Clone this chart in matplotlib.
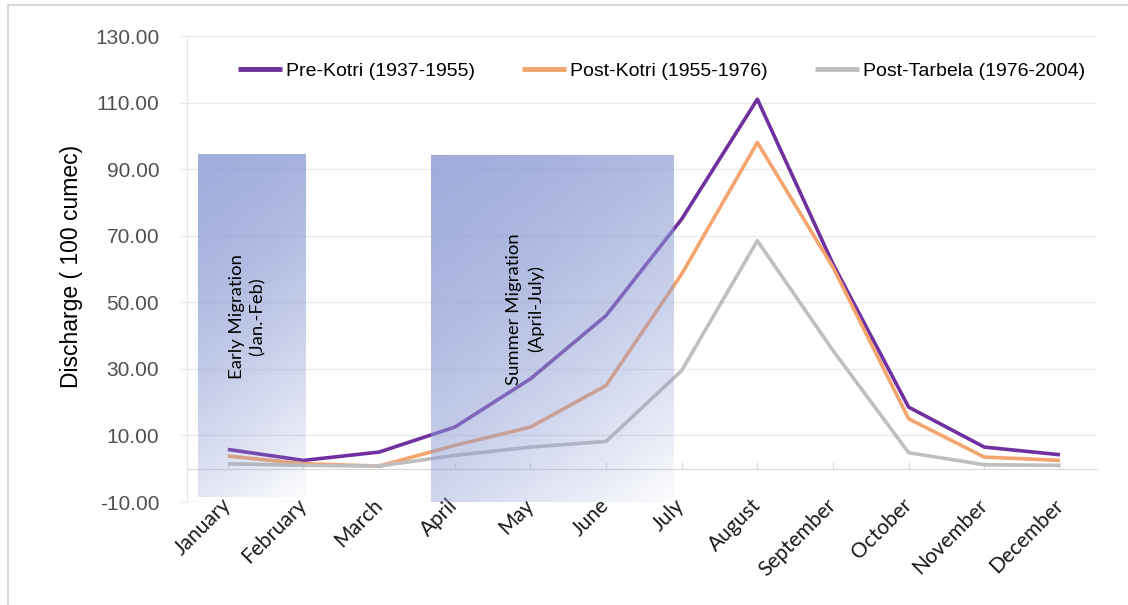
import numpy as np
import matplotlib
matplotlib.use("Agg")
import matplotlib.pyplot as plt
from matplotlib.lines import Line2D

months = ["January", "February", "March", "April", "May", "June", "July",
          "August", "September", "October", "November", "December"]
pre_kotri = [5.8, 2.5, 5.0, 12.5, 27.0, 46.0, 75.0, 111.0, 61.5, 18.5, 6.5, 4.2]
post_kotri = [3.8, 1.5, 0.8, 7.0, 12.5, 25.0, 58.5, 98.0, 60.5, 15.0, 3.5, 2.5]
post_tarbela = [1.5, 1.0, 0.8, 4.0, 6.5, 8.2, 29.5, 68.5, 35.5, 4.8, 1.2, 1.0]
series_names = ["Pre-Kotri (1937-1955)", "Post-Kotri (1955-1976)", "Post-Tarbela (1976-2004)"]
series_colors = ["#7030A0", "#F4A46C", "#BFBFBF"]
yticks = [-10, 10, 30, 50, 70, 90, 110, 130]

# shaded migration periods: (x0, x1, y0, y1, label, text x, text y)
periods = [(-0.40, 1.02, -8.5, 94.5, "Early Migration\n(Jan.-Feb)", 0.26, 45.7),
           (2.69, 5.89, -10.0, 94.0, "Summer Migration\n(April-July)", 3.93, 48.0)]

W, H = 1128, 605
fig = plt.figure(figsize=(W / 100, H / 100), dpi=100)
ax = fig.add_axes([187 / W, 1 - 502 / H, (1097 - 187) / W, (502 - 36) / H])

x = np.arange(len(months))
for vals, name, col in zip([pre_kotri, post_kotri, post_tarbela], series_names, series_colors):
    ax.plot(x, vals, color=col, lw=2.6, label=name, zorder=3, solid_capstyle="butt")

ax.set_xlim(-0.54, 11.49)
ax.set_ylim(-10, 130)
ax.set_yticks(yticks)
ax.set_yticklabels([f"{v:.2f}" for v in yticks], fontname="Liberation Sans",
                   fontsize=15, color="#505050")
ax.grid(axis="y", color="#EBEBEB", lw=1.0, zorder=0)
ax.set_axisbelow(True)
for s in ["top", "right", "bottom"]:
    ax.spines[s].set_visible(False)
ax.spines["left"].set_color("#E6E6E6")
ax.tick_params(axis="y", length=5, color="#E6E6E6", pad=15)

ax.set_xticks(x)
ax.set_xticklabels(months, rotation=45, ha="right", va="center",
                   rotation_mode="anchor", fontname="Lato", fontsize=15, color="#1a1a1a")
ax.tick_params(axis="x", length=0, pad=0)

# category axis crossing at zero
ymin, ymax = ax.get_ylim()
sec = ax.secondary_xaxis((0 - ymin) / (ymax - ymin))
sec.set_xticks(x)
sec.set_xticklabels([])
sec.tick_params(direction="in", length=5, color="#D9D9D9")
sec.spines["bottom"].set_color("#D9D9D9")

# gradient boxes (gradient direction fixed in pixel space)
base_rgb = np.array([140, 155, 212]) / 255
for x0, x1, y0, y1, lab, tx, ty in periods:
    (px0, py0), (px1, py1) = ax.transData.transform([(x0, y0), (x1, y1)])
    wpx, hpx = abs(px1 - px0), abs(py1 - py0)
    ny, nx = 200, 200
    vv, hh = np.meshgrid(np.linspace(0, 1, ny), np.linspace(0, 1, nx), indexing="ij")
    dx, dy = 1.0, 1.3
    t = (dx * hh * wpx + dy * vv * hpx) / (dx * wpx + dy * hpx)
    rgba = np.zeros((ny, nx, 4))
    rgba[..., :3] = base_rgb
    rgba[..., 3] = 0.80 * (1 - t ** 1.6) + 0.02
    ax.imshow(rgba, extent=[x0, x1, y0, y1], origin="upper", aspect="auto",
              zorder=4, interpolation="bilinear")
    ax.text(tx, ty, lab, rotation=90, ha="center", va="center", multialignment="center",
            fontname="Lato", fontsize=13.3, color="black", zorder=5, linespacing=1.35)
ax.set_xlim(-0.54, 11.49)
ax.set_ylim(-10, 130)

ax.set_ylabel("Discharge ( 100 cumec)", fontname="Liberation Sans", fontsize=16.5, color="black")
ax.yaxis.set_label_coords((83 - 187) / (1097 - 187), 0.505)

leg = ax.legend(loc="center left", bbox_to_anchor=(238 / W, 1 - 71 / H),
                bbox_transform=fig.transFigure, ncol=3, frameon=False,
                prop={"family": "Liberation Sans", "size": 14}, handlelength=2.25,
                handletextpad=0.2, columnspacing=2.45, borderpad=0, borderaxespad=0)
for h in leg.get_lines():
    h.set_linewidth(3.5)

# figure border (left and top edges)
fig.add_artist(Line2D([8 / W, 8 / W], [0, 1 - 5 / H], transform=fig.transFigure,
                      color="#D9D9D9", lw=1.5))
fig.add_artist(Line2D([8 / W, 1], [1 - 5 / H, 1 - 5 / H], transform=fig.transFigure,
                      color="#D9D9D9", lw=1.5))

fig.savefig("out.png", dpi=100, facecolor="white")
